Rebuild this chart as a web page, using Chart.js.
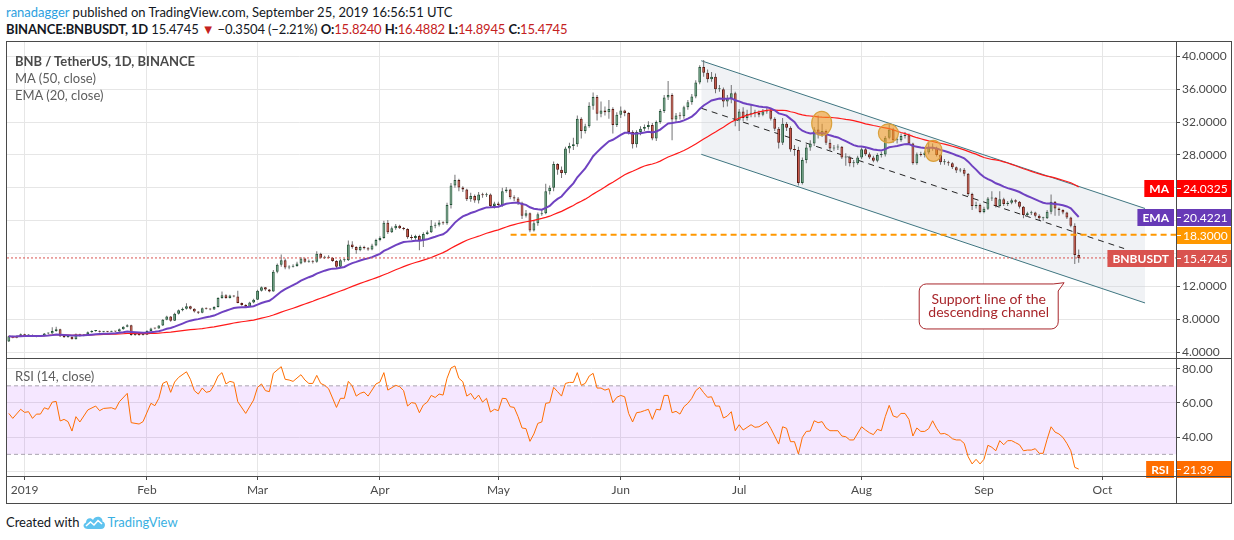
<!DOCTYPE html>
<html lang="en">
<head>
<meta charset="UTF-8">
<title>BNB / TetherUS, 1D, BINANCE</title>
<script src="https://cdn.jsdelivr.net/npm/chart.js"></script>
<style>
  body { margin: 0; background: #fff; font-family: Lato, 'Open Sans', sans-serif; }
  #page { position: relative; width: 1234px; height: 540px; overflow: hidden; }
  .txt { position: absolute; white-space: nowrap; }
  .hdr { left: 6px; font-size: 13px; color: #131722; line-height: 17px; }
  .user { color: #2d9fe0; }
  .dn { color: #c42121; }
  .leg { left: 15px; font-size: 13px; color: #5d5d5d; line-height: 16px; }
  canvas { position: absolute; }
  .rule { position: absolute; background: #4a4a4a; }
  #foot { left: 6px; top: 514px; font-size: 13px; color: #131722; }
  #foot svg { vertical-align: -3px; margin: 0 1px 0 3px; }
  #foot .tv { color: #3ab0e2; }
</style>
</head>
<body>
<div id="page">
  <div class="txt hdr" style="top:4px"><span class="user">ranadagger</span> published on TradingView.com, September 25, 2019 16:56:51 UTC</div>
  <div class="txt hdr" style="top:21px;letter-spacing:-0.15px"><b>BINANCE:BNBUSDT, 1D</b> 15.4745 <span class="dn">&#9660;</span> &minus;0.3504 (&minus;2.21%) <b>O:</b><span class="dn">15.8240</span> <b>H:</b><span class="dn">16.4882</span> <b>L:</b><span class="dn">14.8945</span> <b>C:</b><span class="dn">15.4745</span></div>

  <canvas id="price" width="1224" height="316" style="left:7px;top:42px"></canvas>
  <canvas id="rsi" width="1224" height="145" style="left:7px;top:358px"></canvas>

  <div class="txt leg" style="top:53px;font-weight:bold;color:#4a4a4a">BNB / TetherUS, 1D, BINANCE</div>
  <div class="txt leg" style="top:70px">MA (50, close)</div>
  <div class="txt leg" style="top:87px">EMA (20, close)</div>
  <div class="txt leg" style="top:368px">RSI (14, close)</div>

  <!-- frame and pane separators -->
  <div class="rule" style="left:6px;top:41px;width:1226px;height:1px"></div>
  <div class="rule" style="left:6px;top:503px;width:1226px;height:1px"></div>
  <div class="rule" style="left:6px;top:41px;width:1px;height:463px"></div>
  <div class="rule" style="left:1231px;top:41px;width:1px;height:463px"></div>
  <div class="rule" style="left:1176px;top:41px;width:1px;height:463px"></div>
  <div class="rule" style="left:6px;top:358px;width:1226px;height:1px"></div>
  <div class="rule" style="left:6px;top:476px;width:1226px;height:1px"></div>

  <div class="txt" id="foot">Created with<svg width="24" height="15" viewBox="0 0 24 15"><path d="M6 14 C1 14 0 9 4 7.5 C4 3 9 2 11 5 C13 0 21 1 20.5 6.5 C24 7 24 14 19 14 Z" fill="#5fc3ef"/><polyline points="4,11 8.5,7 12,10 16,5.5 20,9" fill="none" stroke="#fff" stroke-width="1.6"/></svg><span class="tv">TradingView</span></div>
</div>

<script>
// day index: 0 = 1 Jan 2019, first candle is 28 Dec 2018
const firstDay = -4;
const firstOpen = 5.30;

const closes = [
  5.95, 5.78, 5.98, 6.20, 6.05, 6.10, 5.95, 5.92, 6.00, 6.28,
  6.30, 6.60, 6.80, 5.95, 5.85, 5.88, 5.60, 6.20, 6.00, 6.15,
  6.45, 6.58, 6.60, 6.50, 6.52, 6.50, 6.55, 6.53, 6.80, 7.10,
  7.30, 6.10, 6.12, 6.10, 6.12, 6.60, 6.90, 6.88, 7.25, 7.95,
  8.35, 7.85, 8.70, 9.10, 9.30, 9.60, 9.30, 8.95, 8.80, 9.35,
  9.30, 9.20, 9.50, 10.60, 10.95, 10.60, 10.90, 10.80, 10.00, 9.75,
  9.55, 10.05, 10.40, 11.50, 11.90, 11.65, 11.40, 13.80, 14.65, 15.20,
  14.30, 14.40, 14.50, 14.80, 15.40, 15.00, 15.10, 15.00, 16.00, 15.50,
  15.60, 15.50, 15.10, 14.40, 15.20, 15.20, 17.10, 16.80, 16.40, 16.80,
  16.65, 16.50, 17.00, 17.65, 17.90, 19.75, 18.60, 19.10, 19.40, 19.10,
  19.00, 18.00, 17.90, 18.15, 17.60, 18.40, 18.60, 19.40, 19.50, 19.80,
  19.70, 21.90, 24.30, 24.95, 24.05, 23.80, 22.60, 23.00, 22.45, 23.20,
  23.10, 23.20, 21.80, 22.10, 21.90, 23.60, 23.80, 22.85, 22.70, 22.20,
  20.60, 20.90, 18.80, 19.70, 20.80, 20.90, 23.60, 24.00, 26.90, 26.20,
  25.80, 28.80, 29.10, 29.30, 32.40, 30.90, 31.50, 34.00, 35.05, 33.00,
  33.40, 33.20, 33.60, 31.65, 32.90, 33.40, 33.10, 30.80, 29.30, 30.80,
  31.20, 31.40, 31.65, 30.00, 32.00, 33.35, 35.00, 35.30, 32.30, 32.80,
  32.70, 33.80, 34.40, 35.10, 36.80, 38.70, 38.00, 37.20, 37.50, 36.00,
  36.00, 34.50, 34.90, 35.50, 32.20, 33.30, 32.50, 33.00, 33.10, 33.10,
  32.90, 33.30, 33.40, 32.40, 31.20, 29.50, 31.80, 31.30, 28.65, 28.60,
  24.60, 27.40, 28.90, 29.40, 31.10, 30.40, 30.90, 29.50, 28.80, 28.90,
  29.00, 27.70, 27.70, 27.00, 27.00, 27.70, 28.70, 28.10, 27.70, 27.30,
  28.00, 28.05, 30.10, 31.10, 29.80, 29.80, 30.30, 30.40, 29.40, 27.00,
  28.10, 28.00, 28.30, 29.00, 28.85, 28.00, 27.10, 27.10, 27.00, 26.50,
  26.10, 26.20, 25.70, 23.25, 21.80, 21.90, 21.05, 21.45, 22.70, 22.80,
  21.80, 22.60, 22.05, 22.20, 22.50, 22.30, 21.70, 20.70, 20.90, 21.00,
  20.60, 20.30, 20.30, 21.10, 22.30, 21.50, 21.30, 21.00, 20.40, 19.40,
  15.824, 15.4745
];
const highs = [
  6.02, 6.00, 6.05, 6.30, 6.25, 6.18, 6.15, 6.02, 6.08, 6.35,
  6.42, 7.05, 7.10, 6.85, 6.00, 5.98, 5.92, 6.28, 6.25, 6.22,
  6.52, 6.68, 6.70, 6.65, 6.60, 6.58, 6.62, 6.60, 6.88, 7.18,
  7.40, 7.35, 6.20, 6.18, 6.20, 6.68, 6.98, 7.00, 7.30, 8.05,
  8.45, 8.40, 8.80, 9.20, 9.45, 9.95, 9.65, 9.35, 9.00, 9.45,
  9.45, 9.35, 9.60, 10.70, 11.40, 11.05, 11.00, 10.95, 11.50, 10.05,
  9.85, 10.15, 10.50, 11.60, 12.00, 11.95, 11.70, 14.00, 14.80, 15.90,
  15.40, 14.60, 14.70, 15.00, 15.60, 15.50, 15.30, 15.20, 16.30, 16.10,
  15.75, 15.80, 15.60, 15.20, 15.35, 15.40, 17.60, 17.50, 16.90, 17.00,
  16.95, 16.80, 17.20, 17.80, 18.10, 20.00, 20.10, 19.30, 19.60, 19.50,
  19.25, 19.10, 18.30, 18.30, 18.30, 18.60, 18.80, 20.10, 19.80, 20.10,
  19.95, 22.20, 24.60, 25.60, 25.10, 24.20, 23.90, 23.40, 23.20, 23.50,
  23.40, 23.40, 23.30, 22.30, 22.30, 24.00, 24.10, 23.90, 23.10, 22.90,
  22.30, 21.30, 21.00, 20.10, 21.00, 21.40, 24.50, 24.30, 27.20, 27.00,
  26.60, 29.00, 29.50, 30.10, 32.80, 32.60, 31.80, 34.40, 35.60, 35.30,
  34.50, 33.90, 34.70, 33.80, 33.20, 33.90, 33.50, 33.20, 31.00, 31.00,
  31.50, 31.70, 32.10, 31.90, 32.20, 33.60, 35.30, 37.00, 35.50, 33.10,
  33.20, 34.00, 34.70, 35.40, 37.10, 38.90, 39.55, 38.40, 38.10, 37.90,
  36.50, 36.20, 35.30, 36.50, 35.70, 33.60, 33.80, 33.50, 34.20, 33.50,
  33.40, 33.60, 33.80, 33.60, 32.60, 31.40, 32.50, 32.00, 31.50, 29.20,
  29.00, 27.70, 29.30, 29.80, 31.40, 32.80, 31.80, 31.10, 29.90, 29.20,
  29.30, 29.10, 28.20, 27.90, 27.40, 27.90, 28.90, 28.90, 28.30, 27.90,
  28.20, 28.40, 30.30, 31.70, 31.30, 30.10, 30.60, 30.80, 30.60, 29.50,
  28.30, 28.40, 28.50, 29.50, 29.40, 29.00, 28.10, 27.50, 27.30, 27.10,
  26.60, 26.40, 26.40, 25.80, 23.40, 22.30, 22.10, 21.70, 22.90, 23.60,
  22.90, 23.60, 22.80, 22.40, 22.70, 22.60, 22.40, 21.80, 21.10, 21.20,
  21.10, 20.80, 20.50, 21.30, 23.20, 22.40, 21.60, 21.40, 21.10, 20.50,
  19.70, 16.4882
];
const lows = [
  5.25, 5.70, 5.72, 5.92, 5.98, 5.98, 5.88, 5.82, 5.85, 5.95,
  6.20, 6.25, 6.50, 5.85, 5.75, 5.78, 5.55, 5.55, 5.92, 5.95,
  6.10, 6.38, 6.50, 6.42, 6.45, 6.44, 6.46, 6.46, 6.50, 6.75,
  7.05, 6.00, 6.02, 6.02, 6.04, 6.10, 6.55, 6.80, 6.85, 7.20,
  7.90, 7.70, 7.80, 8.60, 9.00, 9.20, 9.20, 8.85, 8.65, 8.75,
  9.20, 9.10, 9.15, 9.45, 10.50, 10.50, 10.55, 10.70, 9.95, 9.65,
  9.45, 9.50, 9.95, 10.35, 11.40, 11.50, 11.30, 11.35, 13.60, 14.40,
  14.10, 14.10, 14.30, 14.40, 14.70, 14.90, 14.90, 14.80, 14.90, 15.40,
  15.35, 15.40, 15.00, 14.20, 14.30, 15.00, 15.10, 16.60, 16.00, 16.30,
  16.50, 16.35, 16.40, 16.90, 17.50, 17.80, 18.40, 18.50, 18.90, 19.00,
  18.85, 17.80, 17.70, 17.70, 16.40, 16.80, 18.30, 18.50, 19.10, 19.30,
  19.50, 19.50, 21.50, 24.00, 23.60, 23.50, 22.40, 22.30, 22.20, 22.10,
  22.80, 22.90, 21.60, 21.50, 21.60, 21.70, 23.40, 22.60, 22.40, 21.90,
  20.20, 20.40, 18.60, 18.70, 19.40, 20.60, 20.80, 23.20, 23.60, 25.60,
  25.20, 25.60, 28.20, 28.60, 29.00, 30.00, 30.60, 31.30, 33.50, 32.20,
  32.60, 32.80, 32.40, 30.60, 31.40, 32.50, 32.70, 30.50, 28.80, 28.90,
  30.40, 30.90, 31.10, 29.80, 29.70, 31.80, 33.10, 34.70, 29.80, 31.90,
  32.30, 32.40, 33.50, 34.10, 34.90, 36.60, 37.50, 36.80, 36.90, 35.50,
  35.70, 33.80, 33.90, 34.30, 31.50, 30.90, 32.10, 32.20, 32.60, 32.60,
  32.60, 32.70, 33.00, 32.20, 30.90, 28.80, 29.20, 30.90, 28.40, 27.90,
  24.30, 24.40, 27.00, 28.50, 29.10, 30.00, 30.20, 29.20, 28.50, 28.50,
  28.60, 27.50, 26.70, 26.60, 26.50, 26.80, 27.50, 27.90, 27.50, 27.10,
  27.10, 27.70, 27.80, 29.90, 29.50, 29.40, 29.60, 30.00, 29.20, 26.80,
  26.80, 27.80, 27.70, 28.10, 28.50, 27.80, 26.80, 26.80, 26.70, 26.30,
  25.80, 25.90, 25.40, 23.00, 21.30, 21.50, 20.90, 20.90, 21.30, 22.40,
  21.60, 21.60, 21.80, 21.80, 22.00, 22.10, 21.50, 20.30, 20.50, 20.70,
  20.40, 20.10, 20.00, 20.20, 20.80, 20.60, 20.60, 20.80, 20.20, 19.20,
  14.75, 14.8945
];

// RSI(14)
const rsiDays = [
  -4, -3, -1, 0, 1, 2, 3, 4, 5, 6, 7, 8, 9, 10, 11, 12, 13, 14, 16, 18,
  19, 20, 22, 23, 24, 26, 27, 29, 30, 32, 33, 34, 35, 36, 37, 38, 39, 41, 42, 43,
  44, 45, 46, 47, 48, 49, 50, 51, 52, 53, 54, 56, 58, 59, 60, 61, 62, 63, 65, 66,
  67, 68, 70, 71, 72, 73, 74, 75, 76, 77, 79, 80, 81, 82, 83, 84, 85, 86, 87, 89,
  90, 91, 92, 94, 95, 96, 97, 98, 99, 100, 101, 102, 103, 104, 105, 106, 107, 108, 109, 110,
  111, 112, 113, 114, 115, 116, 117, 118, 119, 120, 121, 122, 123, 124, 125, 126, 127, 128, 129, 130,
  131, 132, 133, 134, 135, 136, 137, 138, 139, 140, 141, 142, 143, 144, 145, 146, 147, 148, 149, 150,
  151, 152, 153, 154, 155, 156, 157, 158, 159, 160, 161, 162, 163, 164, 165, 166, 167, 168, 169, 170,
  171, 172, 173, 174, 175, 176, 177, 178, 179, 180, 181, 182, 184, 185, 186, 188, 189, 191, 192, 193,
  194, 195, 196, 197, 198, 199, 200, 201, 202, 203, 204, 205, 206, 207, 208, 209, 210, 212, 213, 214,
  215, 216, 217, 218, 219, 220, 221, 222, 223, 224, 225, 226, 227, 228, 229, 230, 231, 232, 233, 234,
  235, 236, 237, 238, 239, 240, 241, 242, 243, 244, 245, 246, 247, 248, 249, 250, 251, 252, 253, 254,
  255, 256, 257, 258, 259, 260, 261, 262, 263, 264, 265, 266, 267
];
const rsiValues = [
  53.9, 51.0, 56.3, 54.5, 54.9, 51.0, 53.5, 53.5, 57.2, 56.3, 60.5, 60.9, 49.5, 50.4, 49.1, 43.6, 52.0, 48.9, 55.9, 58.2,
  55.5, 56.8, 57.2, 56.3, 60.7, 65.6, 48.5, 47.7, 49.1, 59.8, 58.4, 62.7, 71.4, 72.6, 66.2, 72.2, 74.9, 78.2, 73.8, 67.2,
  65.2, 68.7, 66.2, 66.8, 70.5, 75.7, 77.7, 71.1, 72.6, 72.0, 60.7, 53.9, 61.7, 69.1, 71.1, 67.2, 66.6, 77.3, 81.2, 73.8,
  73.4, 72.6, 76.5, 73.4, 71.4, 71.4, 76.1, 71.4, 70.3, 68.3, 57.4, 62.7, 62.7, 72.6, 69.9, 64.0, 65.6, 66.4, 64.0, 71.1,
  72.2, 77.7, 67.5, 70.3, 69.5, 67.2, 58.2, 60.2, 59.8, 54.3, 58.8, 60.5, 64.4, 63.2, 65.2, 64.6, 74.4, 80.4, 81.6, 74.4,
  72.4, 64.0, 65.6, 62.1, 64.6, 60.5, 62.7, 54.7, 56.3, 55.5, 62.7, 62.5, 57.8, 57.4, 52.0, 45.4, 45.0, 37.6, 41.9, 48.1,
  48.9, 59.8, 60.2, 69.1, 66.6, 64.0, 71.4, 72.0, 72.0, 77.7, 70.3, 71.4, 75.7, 77.3, 68.7, 68.7, 67.5, 68.3, 60.2, 63.3,
  64.4, 63.6, 53.9, 48.9, 54.3, 54.7, 55.5, 56.3, 50.4, 56.3, 55.9, 64.4, 64.4, 54.3, 55.1, 53.5, 57.8, 59.8, 62.7, 67.2,
  69.1, 66.0, 63.3, 63.6, 58.2, 58.2, 51.2, 52.4, 54.9, 43.8, 47.3, 44.2, 47.3, 45.8, 46.1, 49.1, 45.2, 36.0, 46.1, 45.2,
  37.4, 37.4, 30.2, 39.9, 43.4, 43.6, 49.6, 48.5, 49.1, 45.4, 43.8, 43.8, 43.8, 40.7, 40.3, 38.4, 38.4, 46.1, 44.2, 42.6,
  41.5, 44.6, 43.8, 52.0, 58.6, 52.4, 51.6, 53.9, 53.9, 50.4, 40.7, 45.4, 43.4, 43.4, 45.0, 49.6, 45.2, 41.9, 42.2, 41.1,
  39.1, 38.4, 38.4, 36.4, 28.6, 24.4, 27.1, 24.4, 27.1, 35.3, 34.1, 32.1, 38.0, 35.6, 38.0, 38.0, 36.8, 35.6, 32.1, 32.5,
  32.5, 33.3, 30.6, 30.6, 38.8, 46.1, 43.0, 41.9, 39.9, 36.4, 32.1, 22.4, 21.39
];

const monthDays = [0, 31, 59, 90, 120, 151, 181, 212, 243, 273];
const monthLabels = ['2019', 'Feb', 'Mar', 'Apr', 'May', 'Jun', 'Jul', 'Aug', 'Sep', 'Oct'];
const priceTicks = [4, 8, 12, 16, 20, 24, 28, 32, 36, 40];
const rsiTicks = [20, 40, 60, 80];

// drawings, in [day, price]
const channelUpper = [[171.4, 39.46], [283.8, 21.49]];
const channelLower = [[171.4, 28.08], [283.8, 10.0]];
const channelMid = [[171.4, 33.68], [278.5, 16.62]];
const supportLevel = 18.3;
const supportFromDay = 123.1;
const highlightSpots = [[201.9, 31.85], [218.8, 30.63], [230.2, 28.5]];
const calloutTip = [263.3, 12.46];
const calloutCorner = [226.6, 12.31];
const calloutText = ['Support line of the', 'descending channel'];

const lastPrice = 15.4745;
const maLast = 24.0325;
const emaLast = 20.4221;
const rsiLast = 21.39;

// ---- derived series ----
const days = closes.map((c, i) => firstDay + i);
const opens = closes.map((c, i) => i ? closes[i - 1] : firstOpen);
const ma50 = closes.map((c, i) => {
  const win = closes.slice(Math.max(0, i - 49), i + 1);
  return win.reduce((a, b) => a + b, 0) / win.length;
});
const k = 2 / 21;
let prev;
const ema20 = closes.map(c => (prev = prev === undefined ? c : c * k + prev * (1 - k)));

// ---- layout: page pixel <-> value ----
const jan1Px = 24.6, dayPx = 3.948;
const dayAt = px => (px - jan1Px) / dayPx;
const xMin = dayAt(7), xMax = dayAt(1176);
const priceAt = py => 40 - (py - 56.3) / 8.222;
const rsiAt = py => 80 - (py - 368.7) / 1.713;

const fontFam = "Lato, 'Open Sans', sans-serif";
const gridColor = '#e6e6e6';
const axisColor = '#4a4a4a';
const upFill = '#6ba583', upLine = '#225437', dnFill = '#d75442', dnLine = '#5b1a13';

const pt = p => ({ x: p[0], y: p[1] });
const flatLine = (v, from) => [{ x: from, y: v }, { x: xMax, y: v }];

function valueTag(chart, value, text, color, tag) {
  const { ctx, chartArea: area, scales: { y } } = chart;
  const py = Math.round(y.getPixelForValue(value)) + 0.5;
  const h = 17;
  ctx.save();
  ctx.font = '12px ' + fontFam;
  ctx.fillStyle = color;
  ctx.fillRect(area.right + 1, py - h / 2, chart.width - area.right - 1, h);
  ctx.strokeStyle = '#fff';
  ctx.lineWidth = 1;
  ctx.beginPath(); ctx.moveTo(area.right + 1, py); ctx.lineTo(area.right + 5, py); ctx.stroke();
  ctx.fillStyle = '#fff';
  ctx.textBaseline = 'middle';
  ctx.textAlign = 'left';
  ctx.fillText(text, area.right + 7, py + 0.5);
  if (tag) {
    ctx.font = 'bold 12px ' + fontFam;
    const w = ctx.measureText(tag).width + 10;
    ctx.fillStyle = color;
    ctx.fillRect(area.right - 2 - w, py - h / 2, w, h);
    ctx.fillStyle = '#fff';
    ctx.textAlign = 'center';
    ctx.fillText(tag, area.right - 2 - w / 2, py + 0.5);
  }
  ctx.restore();
}

const priceDecor = {
  id: 'priceDecor',
  afterDatasetsDraw(chart) {
    const { ctx, scales: { x, y } } = chart;
    const radii = [[10, 12], [10, 9.5], [8.5, 10.5]];
    ctx.save();
    highlightSpots.forEach((s, i) => {
      ctx.beginPath();
      ctx.ellipse(x.getPixelForValue(s[0]), y.getPixelForValue(s[1]), radii[i][0], radii[i][1], 0, 0, Math.PI * 2);
      ctx.fillStyle = 'rgba(242,153,35,0.6)';
      ctx.fill();
      ctx.strokeStyle = '#d9a13c';
      ctx.lineWidth = 1.2;
      ctx.stroke();
    });
    ctx.restore();
  },
  afterDraw(chart) {
    const { ctx, scales: { x, y } } = chart;
    // callout
    const L = x.getPixelForValue(calloutCorner[0]), T = y.getPixelForValue(calloutCorner[1]);
    const W = 139, H = 45, R = L + W, B = T + H, r = 7;
    const tx = x.getPixelForValue(calloutTip[0]), ty = y.getPixelForValue(calloutTip[1]);
    ctx.save();
    ctx.beginPath();
    ctx.moveTo(L + r, T);
    ctx.lineTo(R - 5, T);
    ctx.lineTo(tx, ty);
    ctx.lineTo(R, T + 7);
    ctx.lineTo(R, B - r);
    ctx.arcTo(R, B, R - r, B, r);
    ctx.lineTo(L + r, B);
    ctx.arcTo(L, B, L, B - r, r);
    ctx.lineTo(L, T + r);
    ctx.arcTo(L, T, L + r, T, r);
    ctx.closePath();
    ctx.fillStyle = '#fff';
    ctx.fill();
    ctx.strokeStyle = '#a8262b';
    ctx.lineWidth = 1;
    ctx.stroke();
    ctx.fillStyle = '#a8262b';
    ctx.font = '14px ' + fontFam;
    ctx.textAlign = 'center';
    ctx.textBaseline = 'middle';
    ctx.fillText(calloutText[0], L + W / 2, T + 16);
    ctx.fillText(calloutText[1], L + W / 2, T + 29);
    ctx.restore();

    valueTag(chart, maLast, maLast.toFixed(4), '#ff0000', 'MA');
    valueTag(chart, emaLast, emaLast.toFixed(4), '#673ab7', 'EMA');
    valueTag(chart, supportLevel, supportLevel.toFixed(4), '#ff9800', null);
    valueTag(chart, lastPrice, lastPrice.toFixed(4), '#d9534f', 'BNBUSDT');
  }
};

const rsiDecor = {
  id: 'rsiDecor',
  afterDraw(chart) {
    valueTag(chart, rsiLast, rsiLast.toFixed(2), '#ff6d00', 'RSI');
  }
};

Chart.defaults.font.family = fontFam;

const xGrid = {
  type: 'linear', min: xMin, max: xMax, offset: false,
  afterBuildTicks: s => { s.ticks = monthDays.map(v => ({ value: v })); },
  grid: { color: gridColor, offset: false },
  border: { display: false }
};

new Chart(document.getElementById('price'), {
  type: 'bar',
  data: {
    datasets: [
      { type: 'line', data: channelUpper.map(pt), borderColor: '#3e7580', borderWidth: 1, pointRadius: 0, fill: false, order: 20 },
      { type: 'line', data: channelLower.map(pt), borderColor: '#3e7580', borderWidth: 1, pointRadius: 0,
        fill: '-1', backgroundColor: 'rgba(200,208,220,0.28)', order: 21 },
      { type: 'line', data: channelMid.map(pt), borderColor: '#222', borderWidth: 1, borderDash: [6, 5], pointRadius: 0, order: 15 },
      { data: days.map((d, i) => ({ x: d, y: [lows[i], highs[i]] })), backgroundColor: '#737375',
        borderWidth: 0, grouped: false, maxBarThickness: 1, order: 12 },
      { data: days.map((d, i) => ({ x: d, y: [opens[i], closes[i]] })),
        backgroundColor: closes.map((c, i) => c >= opens[i] ? upFill : dnFill),
        borderColor: closes.map((c, i) => c >= opens[i] ? upLine : dnLine),
        borderWidth: 1, borderSkipped: false, grouped: false, maxBarThickness: 3, minBarLength: 1, order: 11 },
      { type: 'line', data: days.map((d, i) => ({ x: d, y: ma50[i] })), borderColor: '#ff1a1a', borderWidth: 1.2, pointRadius: 0, order: 6 },
      { type: 'line', data: days.map((d, i) => ({ x: d, y: ema20[i] })), borderColor: '#6f42c1', borderWidth: 2, pointRadius: 0, order: 5 },
      { type: 'line', data: flatLine(supportLevel, supportFromDay), borderColor: '#ff9800', borderWidth: 2, borderDash: [6, 4], pointRadius: 0, order: 4 },
      { type: 'line', data: flatLine(lastPrice, xMin), borderColor: '#d9534f', borderWidth: 1, borderDash: [2, 2], pointRadius: 0, order: 3 }
    ]
  },
  options: {
    responsive: false,
    animation: false,
    layout: { padding: 0 },
    plugins: { legend: { display: false }, tooltip: { enabled: false } },
    scales: {
      x: Object.assign({}, xGrid, {
        ticks: { display: false },
        grid: { color: gridColor, offset: false, drawTicks: false },
        afterFit: s => { s.height = 0; s.paddingLeft = 0; s.paddingRight = 0; }
      }),
      y: {
        type: 'linear', position: 'right', min: priceAt(358), max: priceAt(42),
        afterBuildTicks: s => { s.ticks = priceTicks.map(v => ({ value: v })); },
        afterFit: s => { s.width = 55; s.paddingTop = 0; s.paddingBottom = 0; },
        ticks: { callback: v => v.toFixed(4), color: axisColor, font: { size: 12 }, padding: 2 },
        grid: { color: gridColor, tickColor: axisColor, tickLength: 4 },
        border: { display: false }
      }
    }
  },
  plugins: [priceDecor]
});

new Chart(document.getElementById('rsi'), {
  type: 'line',
  data: {
    datasets: [
      { data: flatLine(70, xMin), borderColor: '#a9a3b0', borderWidth: 1, borderDash: [4, 3], pointRadius: 0, fill: false, order: 10 },
      { data: flatLine(30, xMin), borderColor: '#a9a3b0', borderWidth: 1, borderDash: [4, 3], pointRadius: 0,
        fill: '-1', backgroundColor: 'rgba(153,21,255,0.1)', order: 11 },
      { data: rsiDays.map((d, i) => ({ x: d, y: rsiValues[i] })), borderColor: '#ff6d00', borderWidth: 1, pointRadius: 0, order: 1 }
    ]
  },
  options: {
    responsive: false,
    animation: false,
    layout: { padding: 0 },
    plugins: { legend: { display: false }, tooltip: { enabled: false } },
    scales: {
      x: Object.assign({}, xGrid, {
        ticks: { callback: v => monthLabels[monthDays.indexOf(v)], color: axisColor, font: { size: 12 },
                 autoSkip: false, maxRotation: 0, padding: 3 },
        grid: { color: gridColor, offset: false, tickColor: axisColor, tickLength: 4 },
        afterFit: s => { s.height = 27; s.paddingLeft = 0; s.paddingRight = 0; }
      }),
      y: {
        type: 'linear', position: 'right', min: rsiAt(476), max: rsiAt(358),
        afterBuildTicks: s => { s.ticks = rsiTicks.map(v => ({ value: v })); },
        afterFit: s => { s.width = 55; s.paddingTop = 0; s.paddingBottom = 0; },
        ticks: { callback: v => v.toFixed(2), color: axisColor, font: { size: 12 }, padding: 2 },
        grid: { color: gridColor, tickColor: axisColor, tickLength: 4 },
        border: { display: false }
      }
    }
  },
  plugins: [rsiDecor]
});
</script>
</body>
</html>
